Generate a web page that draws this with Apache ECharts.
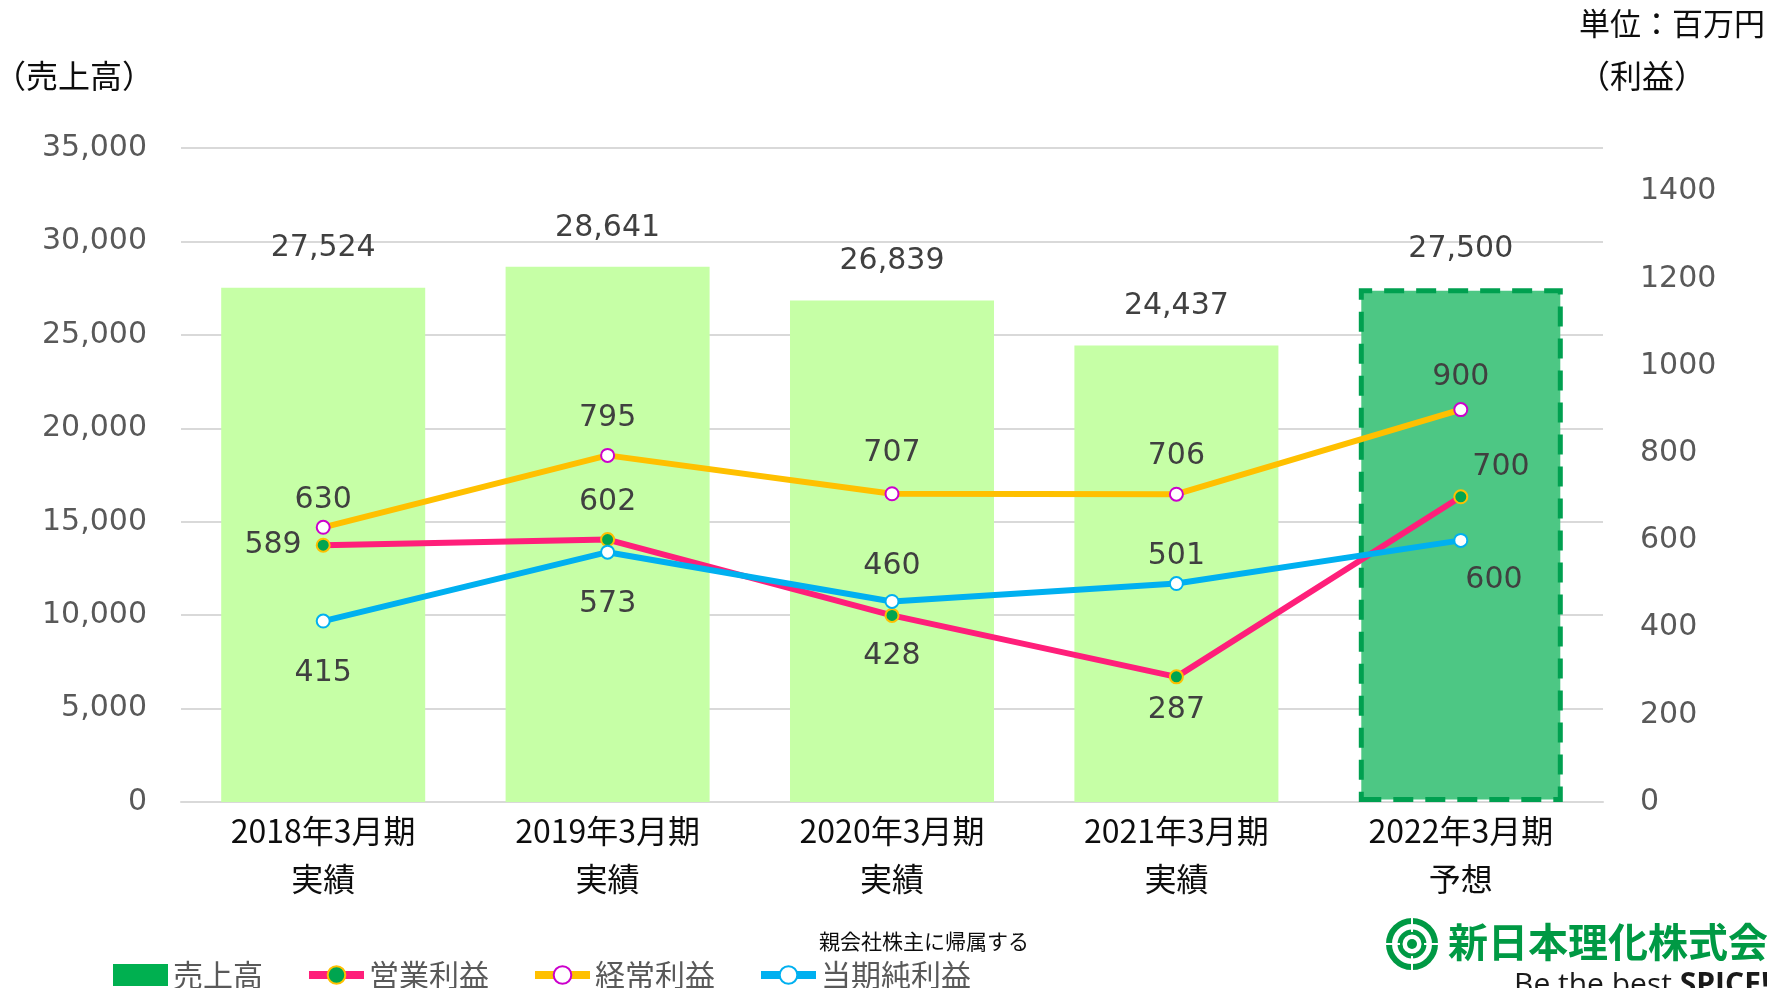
<!DOCTYPE html>
<html>
<head>
<meta charset="utf-8">
<script src="https://cdn.jsdelivr.net/npm/echarts@6.0.0/dist/echarts.min.js"></script>
<style>
  html, body { margin: 0; padding: 0; background: #fff; }
  #main { width: 1767px; height: 988px; }
</style>
</head>
<body>
<div id="main"></div>
<script>
// 期
const categories = ['2018年3月期\n実績', '2019年3月期\n実績', '2020年3月期\n実績', '2021年3月期\n実績', '2022年3月期\n予想']
// 売上高 (百万円)
const sales = [27524, 28641, 26839, 24437, 27500]
// 利益 (百万円)
const operatingProfit = [589, 602, 428, 287, 700]
const ordinaryProfit = [630, 795, 707, 706, 900]
const netProfit = [415, 573, 460, 501, 600]

const jpFont = '"Noto Sans CJK JP", sans-serif'
const numFont = '"DejaVu Sans", "Noto Sans CJK JP", sans-serif'

const chart = echarts.init(document.getElementById('main'))

// 最後の年は予想なので色と枠を変える
const salesData = sales.map((v, i) => {
  if (i === sales.length - 1) {
    return {
      value: v,
      itemStyle: {
        color: '#4DC784',
        borderColor: '#00A050',
        borderWidth: 5,
        borderType: [20, 12]
      }
    }
  }
  return v
})

// ラベルの位置 (点ごと)
const opLabel = [
  { position: 'left', distance: 14 },
  { position: 'top', distance: 15 },
  { position: 'bottom', distance: 18 },
  { position: 'bottom', distance: 11 },
  { position: 'right', distance: 4, offset: [0, -30] }
]
const ordLabel = [
  { position: 'top', distance: 5 },
  { position: 'top', distance: 15 },
  { position: 'top', distance: 18 },
  { position: 'top', distance: 15 },
  { position: 'top', distance: 10 }
]
const netLabel = [
  { position: 'bottom', distance: 30 },
  { position: 'bottom', distance: 30 },
  { position: 'top', distance: 13 },
  { position: 'top', distance: 5 },
  { position: 'right', distance: -3, offset: [0, 40] }
]
const withLabels = (vals, lbl) => vals.map((v, i) => ({ value: v, label: lbl[i] }))

const lineLabel = {
  show: true,
  color: '#404040',
  fontSize: 30,
  fontFamily: numFont
}

const option = {
  animation: false,
  textStyle: { fontFamily: jpFont },
  grid: {
    left: 181,
    right: 164,
    top: 148,
    bottom: 186
  },
  legend: {
    left: 108,
    top: 955,
    itemGap: 42,
    itemWidth: 55,
    itemHeight: 22,
    textStyle: { fontSize: 30, color: '#595959', fontFamily: jpFont },
    data: [
      { name: '売上高', icon: 'rect', itemStyle: { color: '#00B050', borderWidth: 0 } },
      { name: '営業利益', lineStyle: { width: 8 } },
      { name: '経常利益', lineStyle: { width: 8 } },
      { name: '当期純利益', lineStyle: { width: 8 } }
    ]
  },
  xAxis: {
    type: 'category',
    data: categories,
    axisTick: { show: false },
    axisLine: { lineStyle: { color: '#D9D9D9', width: 2 } },
    axisLabel: {
      color: '#0D0D0D',
      fontSize: 32,
      fontFamily: jpFont,
      lineHeight: 48,
      margin: 5
    }
  },
  yAxis: [
    {
      type: 'value',
      min: 0,
      max: 35000,
      interval: 5000,
      axisLine: { show: false },
      axisTick: { show: false },
      splitLine: { lineStyle: { color: '#D9D9D9', width: 2 } },
      axisLabel: {
        color: '#595959',
        fontSize: 30,
        fontFamily: numFont,
        margin: 34,
        formatter: v => v.toLocaleString('en-US')
      }
    },
    {
      type: 'value',
      min: 0,
      max: 1500,
      interval: 200,
      position: 'right',
      axisLine: { show: false },
      axisTick: { show: false },
      splitLine: { show: false },
      axisLabel: {
        color: '#595959',
        fontSize: 30,
        fontFamily: numFont,
        margin: 37,
        showMaxLabel: false,
        formatter: v => String(v)
      }
    }
  ],
  series: [
    {
      name: '売上高',
      type: 'bar',
      barWidth: 204,
      itemStyle: { color: '#C6FFA6' },
      label: {
        show: true,
        position: 'top',
        distance: 24,
        color: '#404040',
        fontSize: 30,
        fontFamily: numFont,
        formatter: p => p.value.toLocaleString('en-US')
      },
      data: salesData
    },
    {
      name: '営業利益',
      type: 'line',
      yAxisIndex: 1,
      symbol: 'circle',
      symbolSize: 13,
      lineStyle: { color: '#FF1F7A', width: 6 },
      itemStyle: { color: '#00A550', borderColor: '#FFC000', borderWidth: 2 },
      label: lineLabel,
      data: withLabels(operatingProfit, opLabel),
      z: 3
    },
    {
      name: '経常利益',
      type: 'line',
      yAxisIndex: 1,
      symbol: 'circle',
      symbolSize: 13,
      lineStyle: { color: '#FFC000', width: 6 },
      itemStyle: { color: '#FFFFFF', borderColor: '#CC00CC', borderWidth: 2 },
      label: lineLabel,
      data: withLabels(ordinaryProfit, ordLabel),
      z: 3
    },
    {
      name: '当期純利益',
      type: 'line',
      yAxisIndex: 1,
      symbol: 'circle',
      symbolSize: 13,
      lineStyle: { color: '#00B0F0', width: 6 },
      itemStyle: { color: '#FFFFFF', borderColor: '#00B0F0', borderWidth: 2 },
      label: lineLabel,
      data: withLabels(netProfit, netLabel),
      z: 4
    }
  ],
  graphic: [
    {
      type: 'text',
      left: -6,
      top: 60,
      style: { text: '（売上高）', fontSize: 32, fill: '#0D0D0D', fontFamily: jpFont }
    },
    {
      type: 'text',
      left: 1578,
      top: 60,
      style: { text: '（利益）', fontSize: 32, fill: '#0D0D0D', fontFamily: jpFont }
    },
    {
      type: 'text',
      right: 2,
      top: 8,
      style: { text: '単位：百万円', fontSize: 31, fill: '#0D0D0D', fontFamily: jpFont }
    },
    {
      type: 'text',
      left: 819,
      top: 931,
      style: { text: '親会社株主に帰属する', fontSize: 21, fill: '#0D0D0D', fontFamily: jpFont }
    },
    // ロゴ
    {
      type: 'group',
      left: 1386,
      top: 918,
      children: [
        { type: 'circle', shape: { cx: 26, cy: 26, r: 23 }, style: { fill: 'none', stroke: '#009944', lineWidth: 6 } },
        { type: 'circle', shape: { cx: 26, cy: 26, r: 12 }, style: { fill: 'none', stroke: '#009944', lineWidth: 5 } },
        { type: 'circle', shape: { cx: 26, cy: 26, r: 5 }, style: { fill: '#009944' } },
        { type: 'rect', shape: { x: 25, y: 0, width: 2, height: 14 }, style: { fill: '#fff' } },
        { type: 'rect', shape: { x: 25, y: 38, width: 2, height: 14 }, style: { fill: '#fff' } },
        { type: 'rect', shape: { x: 0, y: 25, width: 14, height: 2 }, style: { fill: '#fff' } },
        { type: 'rect', shape: { x: 38, y: 25, width: 14, height: 2 }, style: { fill: '#fff' } }
      ]
    },
    {
      type: 'text',
      left: 1448,
      top: 922,
      style: {
        text: '新日本理化株式会社',
        fontSize: 40,
        fontWeight: 'bold',
        fill: '#009944',
        fontFamily: jpFont
      }
    },
    {
      type: 'text',
      left: 1514,
      top: 970,
      style: {
        text: '{a|Be the best }{b|SPICE!}',
        rich: {
          a: { fontSize: 30, fill: '#1A1A1A', fontFamily: '"Open Sans", sans-serif' },
          b: { fontSize: 30, fill: '#1A1A1A', fontWeight: 'bold', fontFamily: '"Open Sans", sans-serif' }
        }
      }
    }
  ]
}

chart.setOption(option)
</script>
</body>
</html>
